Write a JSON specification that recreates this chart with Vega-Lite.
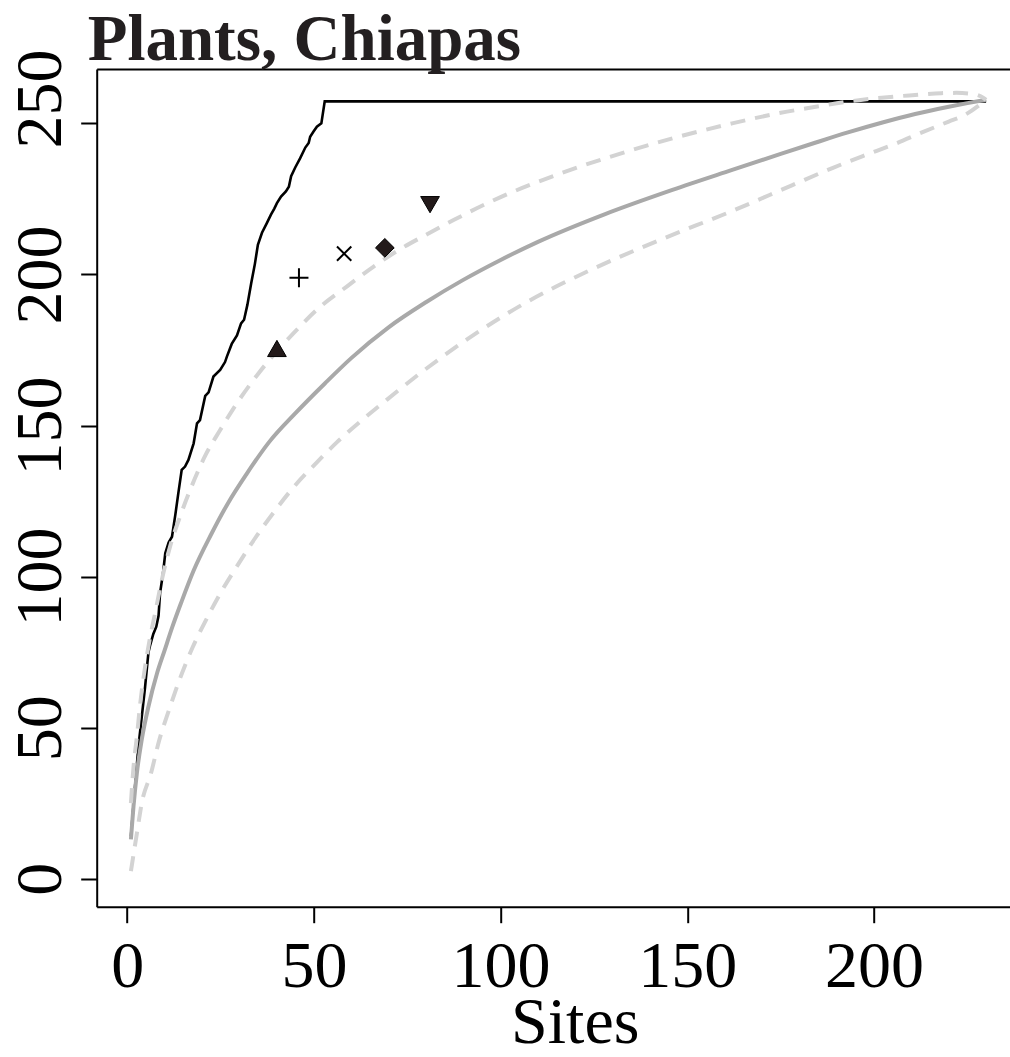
{
  "$schema": "https://vega.github.io/schema/vega-lite/v6.json",
  "width": 913.3,
  "height": 837.7,
  "autosize": "none",
  "padding": {"left": 96.7, "top": 69, "right": 0, "bottom": 150.3},
  "background": "white",
  "view": {"stroke": null},
  "title": {
    "text": "Plants, Chiapas",
    "anchor": "start",
    "frame": "group",
    "dx": -9,
    "dy": 87,
    "offset": 11,
    "baseline": "alphabetic",
    "font": "Liberation Serif",
    "fontSize": 65,
    "fontWeight": "bold",
    "color": "#231f20"
  },
  "config": {
    "axis": {
      "domainColor": "black",
      "domainWidth": 2,
      "tickColor": "black",
      "tickWidth": 2,
      "tickSize": 16,
      "labelFont": "Liberation Serif",
      "labelFontSize": 66,
      "labelColor": "black",
      "titleFont": "Liberation Serif",
      "titleFontSize": 66,
      "titleFontWeight": "normal",
      "titleColor": "black",
      "grid": false,
      "labelOverlap": false,
      "labelFlush": false
    }
  },
  "datasets": {
    "black": [
      {"x": 1, "y": 14}, {"x": 2.1, "y": 30.4}, {"x": 3.0, "y": 43.6}, {"x": 3.9, "y": 53.5},
      {"x": 4.8, "y": 63.5}, {"x": 5.7, "y": 75}, {"x": 6.2, "y": 77.5}, {"x": 7.0, "y": 81},
      {"x": 7.8, "y": 83.4}, {"x": 8.4, "y": 87}, {"x": 8.8, "y": 94.5}, {"x": 9.6, "y": 101.1},
      {"x": 10.2, "y": 107.7}, {"x": 11.1, "y": 111.3}, {"x": 12.0, "y": 113.2}, {"x": 12.9, "y": 120.5},
      {"x": 13.7, "y": 127.6}, {"x": 14.6, "y": 135.3}, {"x": 15.5, "y": 136.4}, {"x": 16.4, "y": 138.6},
      {"x": 17.8, "y": 144.1}, {"x": 18.7, "y": 150.7}, {"x": 19.5, "y": 151.8}, {"x": 20.9, "y": 159.8},
      {"x": 21.8, "y": 161}, {"x": 23.1, "y": 166.2}, {"x": 24.9, "y": 168.4}, {"x": 26.2, "y": 171},
      {"x": 26.7, "y": 172.8}, {"x": 28.0, "y": 177}, {"x": 29.4, "y": 179.8}, {"x": 30.5, "y": 183.8},
      {"x": 31.3, "y": 185}, {"x": 32.2, "y": 190}, {"x": 33.2, "y": 197}, {"x": 34.2, "y": 203.5},
      {"x": 35.0, "y": 209.8}, {"x": 36.1, "y": 213.8}, {"x": 37.4, "y": 217}, {"x": 38.5, "y": 219.8},
      {"x": 39.4, "y": 221.8}, {"x": 40.1, "y": 223.6}, {"x": 41.2, "y": 225.8}, {"x": 42.5, "y": 227.5},
      {"x": 43.3, "y": 229}, {"x": 43.9, "y": 232.5}, {"x": 45.0, "y": 235.4}, {"x": 46.3, "y": 238.4},
      {"x": 47.7, "y": 242}, {"x": 48.6, "y": 243.5}, {"x": 49.0, "y": 245.6}, {"x": 49.9, "y": 247.3},
      {"x": 50.8, "y": 248.9}, {"x": 52.0, "y": 250}, {"x": 52.9, "y": 257.3}, {"x": 230, "y": 257.3}
    ],
    "mean": [
      {"x": 1, "y": 13}, {"x": 1.7, "y": 24}, {"x": 2.6, "y": 35}, {"x": 3.9, "y": 46},
      {"x": 5.7, "y": 57}, {"x": 8, "y": 68}, {"x": 10, "y": 75.5}, {"x": 12, "y": 83},
      {"x": 14.5, "y": 91.5}, {"x": 17.8, "y": 102}, {"x": 22.5, "y": 114}, {"x": 27, "y": 124.3},
      {"x": 32, "y": 134}, {"x": 38, "y": 144.5}, {"x": 45, "y": 154}, {"x": 53, "y": 164},
      {"x": 60, "y": 172.3}, {"x": 70, "y": 182.5}, {"x": 80, "y": 190.8}, {"x": 90, "y": 198.2},
      {"x": 100, "y": 204.8}, {"x": 110, "y": 210.8}, {"x": 128, "y": 220}, {"x": 146, "y": 228},
      {"x": 162, "y": 234.6}, {"x": 175, "y": 239.9}, {"x": 184, "y": 243.5}, {"x": 193, "y": 247},
      {"x": 202, "y": 250.2}, {"x": 211, "y": 253.1}, {"x": 220, "y": 255.5}, {"x": 225, "y": 256.7},
      {"x": 230, "y": 257.8}
    ],
    "upper": [
      {"x": 1, "y": 25}, {"x": 1.7, "y": 37}, {"x": 2.6, "y": 47}, {"x": 3.5, "y": 58},
      {"x": 4.6, "y": 68.5}, {"x": 6, "y": 79}, {"x": 7.5, "y": 88}, {"x": 9.3, "y": 99},
      {"x": 11.5, "y": 110}, {"x": 14.2, "y": 120}, {"x": 17.3, "y": 130}, {"x": 20.9, "y": 140},
      {"x": 24.9, "y": 148.5}, {"x": 29.4, "y": 157.4}, {"x": 35.2, "y": 167.3}, {"x": 44.5, "y": 180.5},
      {"x": 51.7, "y": 189.3}, {"x": 58.8, "y": 196}, {"x": 66, "y": 202.6}, {"x": 73, "y": 208.3},
      {"x": 80.3, "y": 213.3}, {"x": 87.4, "y": 218}, {"x": 100, "y": 225.6}, {"x": 115.7, "y": 233.3},
      {"x": 131, "y": 239.6}, {"x": 146.5, "y": 245.2}, {"x": 162, "y": 250}, {"x": 175, "y": 253.5},
      {"x": 184, "y": 255.4}, {"x": 193, "y": 257.2}, {"x": 202, "y": 258.5}, {"x": 211, "y": 259.4},
      {"x": 218, "y": 260}, {"x": 222, "y": 260.1}, {"x": 226.6, "y": 259.7}, {"x": 229.3, "y": 258.4},
      {"x": 230, "y": 257.8}
    ],
    "lower": [
      {"x": 1, "y": 2.5}, {"x": 2.6, "y": 15}, {"x": 3.9, "y": 25}, {"x": 6.4, "y": 35},
      {"x": 8.6, "y": 45.9}, {"x": 11.2, "y": 55.8}, {"x": 14, "y": 65.8}, {"x": 17.5, "y": 76.5},
      {"x": 21.1, "y": 85.6}, {"x": 25.3, "y": 95.2}, {"x": 29.8, "y": 104.2}, {"x": 34.2, "y": 112.6},
      {"x": 39.2, "y": 121.2}, {"x": 44.5, "y": 129.5}, {"x": 50.8, "y": 137.8}, {"x": 56.2, "y": 144.5},
      {"x": 63.3, "y": 152.2}, {"x": 69.5, "y": 158.5}, {"x": 79, "y": 167.8}, {"x": 91, "y": 178.5},
      {"x": 106.5, "y": 190.5}, {"x": 125, "y": 202}, {"x": 143.4, "y": 211.8}, {"x": 162, "y": 221},
      {"x": 178, "y": 229.5}, {"x": 189, "y": 235.3}, {"x": 197, "y": 239.2}, {"x": 206, "y": 243.4},
      {"x": 213, "y": 247.1}, {"x": 220, "y": 250.6}, {"x": 224, "y": 252.6}, {"x": 230, "y": 257.8}
    ],
    "filledPts": [
      {"x": 40.1, "y": 175.5, "shape": "triangle-up"},
      {"x": 69.0, "y": 208.8, "shape": "diamond"},
      {"x": 81.1, "y": 223.1, "shape": "triangle-down"}
    ],
    "linePts": [
      {"x": 46.0, "y": 198.9, "shape": "plus"},
      {"x": 58.1, "y": 206.9, "shape": "cross"}
    ]
  },
  "layer": [
    {
      "data": {"name": "black"},
      "mark": {"type": "line", "color": "black", "strokeWidth": 2.6},
      "encoding": {
        "x": {"field": "x", "type": "quantitative", "scale": {"domain": [-8.16, 236.4], "nice": false, "zero": false},
              "axis": {"orient": "top", "labels": false, "ticks": false, "title": null, "domain": true}},
        "y": {"field": "y", "type": "quantitative", "scale": {"domain": [-9.27, 268.0], "nice": false, "zero": false},
              "axis": {"values": [0, 50, 100, 150, 200, 250], "title": null, "labelAngle": 270, "labelAlign": "center", "labelBaseline": "alphabetic", "labelPadding": 20,
                       "labelOffset": {"condition": {"test": "datum.value == 250", "value": -25}, "value": 0}}},
        "order": {"field": "x", "type": "quantitative"}
      }
    },
    {
      "data": {"name": "mean"},
      "mark": {"type": "line", "color": "#a9a9a9", "strokeWidth": 4, "interpolate": "monotone"},
      "encoding": {
        "x": {"field": "x", "type": "quantitative",
              "axis": {"orient": "bottom", "values": [0, 50, 100, 150, 200], "title": "Sites", "labelBaseline": "alphabetic", "labelPadding": 64, "titleBaseline": "alphabetic", "titleY": 136, "titleX": 478}},
        "y": {"field": "y", "type": "quantitative"}
      }
    },
    {
      "data": {"name": "upper"},
      "mark": {"type": "line", "color": "#d3d3d3", "strokeWidth": 4, "strokeDash": [15, 10], "interpolate": "monotone"},
      "encoding": {
        "x": {"field": "x", "type": "quantitative", "axis": null},
        "y": {"field": "y", "type": "quantitative"}
      }
    },
    {
      "data": {"name": "lower"},
      "mark": {"type": "line", "color": "#d3d3d3", "strokeWidth": 4, "strokeDash": [15, 10], "interpolate": "monotone"},
      "encoding": {
        "x": {"field": "x", "type": "quantitative", "axis": null},
        "y": {"field": "y", "type": "quantitative"}
      }
    },
    {
      "data": {"name": "filledPts"},
      "mark": {"type": "point", "filled": true, "fill": "#231a1a", "stroke": "black", "strokeWidth": 1, "size": 350, "opacity": 1},
      "encoding": {
        "x": {"field": "x", "type": "quantitative", "axis": null},
        "y": {"field": "y", "type": "quantitative"},
        "shape": {"field": "shape", "type": "nominal", "scale": {"domain": ["triangle-up", "diamond", "triangle-down"], "range": ["triangle-up", "diamond", "triangle-down"]}, "legend": null}
      }
    },
    {
      "data": {"name": "linePts"},
      "mark": {"type": "point", "filled": false, "stroke": "black", "strokeWidth": 2, "opacity": 1},
      "encoding": {
        "x": {"field": "x", "type": "quantitative", "axis": null},
        "y": {"field": "y", "type": "quantitative"},
        "shape": {"field": "shape", "type": "nominal", "scale": {"domain": ["plus", "cross"], "range": ["M-1,0L1,0M0,-1L0,1", "M-1,-1L1,1M-1,1L1,-1"]}, "legend": null},
        "size": {"field": "shape", "type": "nominal", "scale": {"domain": ["plus", "cross"], "range": [361, 205]}, "legend": null}
      }
    }
  ],
  "resolve": {"axis": {"x": "independent"}, "scale": {"shape": "independent", "size": "independent"}}
}
